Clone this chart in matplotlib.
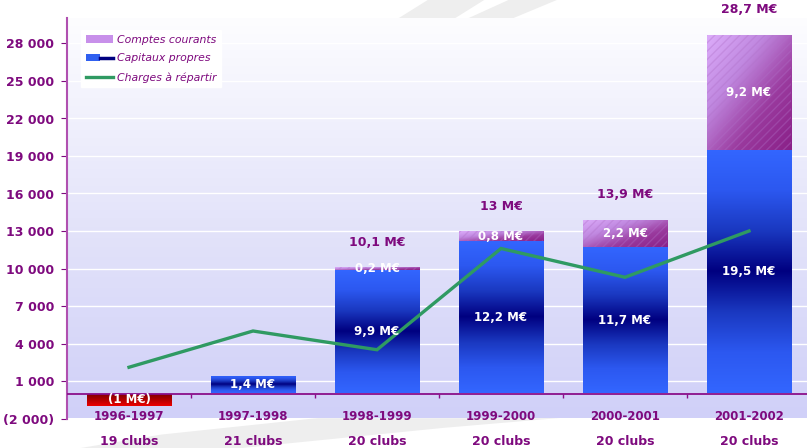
import numpy as np
import matplotlib
matplotlib.use("Agg")
import matplotlib.pyplot as plt
from matplotlib.colors import LinearSegmentedColormap
from matplotlib.patches import Patch, Polygon
from matplotlib.lines import Line2D
from matplotlib.legend_handler import HandlerTuple

# ---------------- data ----------------
seasons = ["1996-1997", "1997-1998", "1998-1999", "1999-2000", "2000-2001", "2001-2002"]
clubs = ["19 clubs", "21 clubs", "20 clubs", "20 clubs", "20 clubs", "20 clubs"]
capitaux = [-1000, 1400, 9900, 12200, 11700, 19500]
comptes = [0, 0, 200, 800, 2200, 9200]
charges = [2100, 5000, 3500, 11600, 9300, 13000]
capitaux_labels = ["(1 M€)", "1,4 M€", "9,9 M€", "12,2 M€", "11,7 M€", "19,5 M€"]
comptes_labels = ["", "", "0,2 M€", "0,8 M€", "2,2 M€", "9,2 M€"]
total_labels = ["", "", "10,1 M€", "13 M€", "13,9 M€", "28,7 M€"]
yticks = [-2000, 1000, 4000, 7000, 10000, 13000, 16000, 19000, 22000, 25000, 28000]
ytick_labels = ["(2 000)", "1 000", "4 000", "7 000", "10 000", "13 000",
                "16 000", "19 000", "22 000", "25 000", "28 000"]

PURPLE = "#7e0a7e"
GREEN = "#2f9a62"

fig = plt.figure(figsize=(8.07, 4.48), dpi=100)
fig.patch.set_facecolor("white")

# decorative grey swooshes in the background
for pts in ([[0.53, 1.0], [0.60, 1.0], [0.56, 0.955], [0.49, 0.955]],
            [[0.63, 1.0], [0.69, 1.0], [0.63, 0.955], [0.575, 0.955]],
            [[0.10, 0.0], [0.30, 0.0], [0.55, 0.045], [0.70, 0.068], [0.40, 0.068], [0.20, 0.03]]):
    fig.patches.append(Polygon(pts, closed=True, transform=fig.transFigure,
                               fc="#eeeeee", ec="none", zorder=-5))

ax = fig.add_axes([67 / 807, 29.5 / 448, 744 / 807, 400 / 448])
ax.set_facecolor("none")

# plot-area gradient background
bg_cmap = LinearSegmentedColormap.from_list("bg", ["#d0d0f8", "#e4e4fa", "#fdfdff"])
ax.imshow(np.linspace(0, 1, 256).reshape(-1, 1), cmap=bg_cmap, extent=[0, 1, 0, 1],
          transform=ax.transAxes, origin="lower", aspect="auto", zorder=0)

x = np.arange(len(seasons))
width = 0.68


def grad_fill(patch, colors, diagonal=False, z=2):
    x0 = patch.get_x()
    w = patch.get_width()
    y0 = patch.get_y()
    h = patch.get_height()
    ylo, yhi = min(y0, y0 + h), max(y0, y0 + h)
    cmap = LinearSegmentedColormap.from_list("g", colors)
    if diagonal:
        X, Y = np.meshgrid(np.linspace(0, 1, 64), np.linspace(0, 1, 64))
        data = (X + (1 - Y)) / 2
    else:
        data = np.linspace(0, 1, 256).reshape(-1, 1)
    im = ax.imshow(data, cmap=cmap, extent=[x0, x0 + w, ylo, yhi], origin="lower",
                   aspect="auto", zorder=z, interpolation="bilinear")
    im.set_clip_path(patch)


blue_cols = ["#3366ff", "#2c58f0", "#1a38c0", "#000080", "#1a38c0", "#2c58f0", "#3366ff"]
red_cols = ["#ee0000", "#b00000", "#780000"]
purple_cols = ["#dcacfa", "#c088e0", "#9a3a9e", "#8a2088"]

cap_bars = ax.bar(x, capitaux, width=width, color="none", edgecolor="none", zorder=2)
for i, b in enumerate(cap_bars):
    grad_fill(b, red_cols if capitaux[i] < 0 else blue_cols)

bottoms = [max(v, 0) for v in capitaux]
cc_bars = ax.bar(x, comptes, width=width, bottom=bottoms, color="none", edgecolor="none", zorder=2)
for i, b in enumerate(cc_bars):
    if comptes[i] > 0:
        grad_fill(b, purple_cols, diagonal=True)
        ax.bar(x[i], comptes[i], width=width, bottom=bottoms[i], color="none",
               edgecolor="#b070c8", hatch="////", linewidth=0, zorder=2.5, alpha=0.35)

ax.plot(x, charges, color=GREEN, lw=2.4, zorder=4, solid_joinstyle="miter")

# labels
lab_font = dict(fontweight="bold", fontsize=8.5, ha="center", va="center", zorder=5)
for i in x:
    ax.text(i, capitaux[i] / 2, capitaux_labels[i], color="white", **lab_font)
    if comptes[i] > 0:
        ax.text(i, bottoms[i] + comptes[i] / 2, comptes_labels[i], color="white", **lab_font)
    if total_labels[i]:
        ax.text(i, bottoms[i] + comptes[i] + 2000, total_labels[i], color=PURPLE,
                fontweight="bold", fontsize=9, ha="center", va="center", zorder=5)
    ax.text(i, -1800, seasons[i], color=PURPLE, fontweight="bold", fontsize=8.5,
            ha="center", va="center", zorder=5)
    ax.text(i, -3800, clubs[i], color=PURPLE, fontweight="bold", fontsize=9,
            ha="center", va="center", zorder=5, clip_on=False)

ax.set_xlim(-0.5, len(seasons) - 0.5)
ax.set_ylim(-2000, 30000)

ax.set_yticks(yticks)
ax.set_yticklabels(ytick_labels, color=PURPLE, fontweight="bold", fontsize=9)
ax.tick_params(axis="y", length=4, color=PURPLE, pad=5)
ax.set_xticks([])
ax.yaxis.grid(True, color="white", lw=1.0, zorder=1)
ax.set_axisbelow(True)

for s in ["top", "right", "bottom"]:
    ax.spines[s].set_visible(False)
ax.spines["left"].set_color("#b050b0")
ax.spines["left"].set_linewidth(1.5)

ax.axhline(0, color="#8a108a", lw=1.3, zorder=3)
ax.vlines(x[:-1] + 0.5, -350, 0, color="#8a108a", lw=1, zorder=3)

h1 = Patch(facecolor="#c890ea", edgecolor="none", hatch="||||")
h2 = (Patch(facecolor="#3060f0", edgecolor="none"), Line2D([], [], color="#000080", lw=2.5))
h3 = Line2D([], [], color=GREEN, lw=2.4)
leg = ax.legend([h1, h2, h3], ["Comptes courants", "Capitaux propres", "Charges à répartir"],
                handler_map={tuple: HandlerTuple(ndivide=None, pad=0)},
                loc="upper left", bbox_to_anchor=(0.012, 0.985), fontsize=7.8,
                frameon=True, fancybox=False, framealpha=1, edgecolor="white",
                handlelength=2.5, handleheight=0.7, borderpad=0.45, labelspacing=0.8,
                handletextpad=0.3)
for t in leg.get_texts():
    t.set_color(PURPLE)
    t.set_fontstyle("italic")

fig.savefig("out.png", dpi=100)
